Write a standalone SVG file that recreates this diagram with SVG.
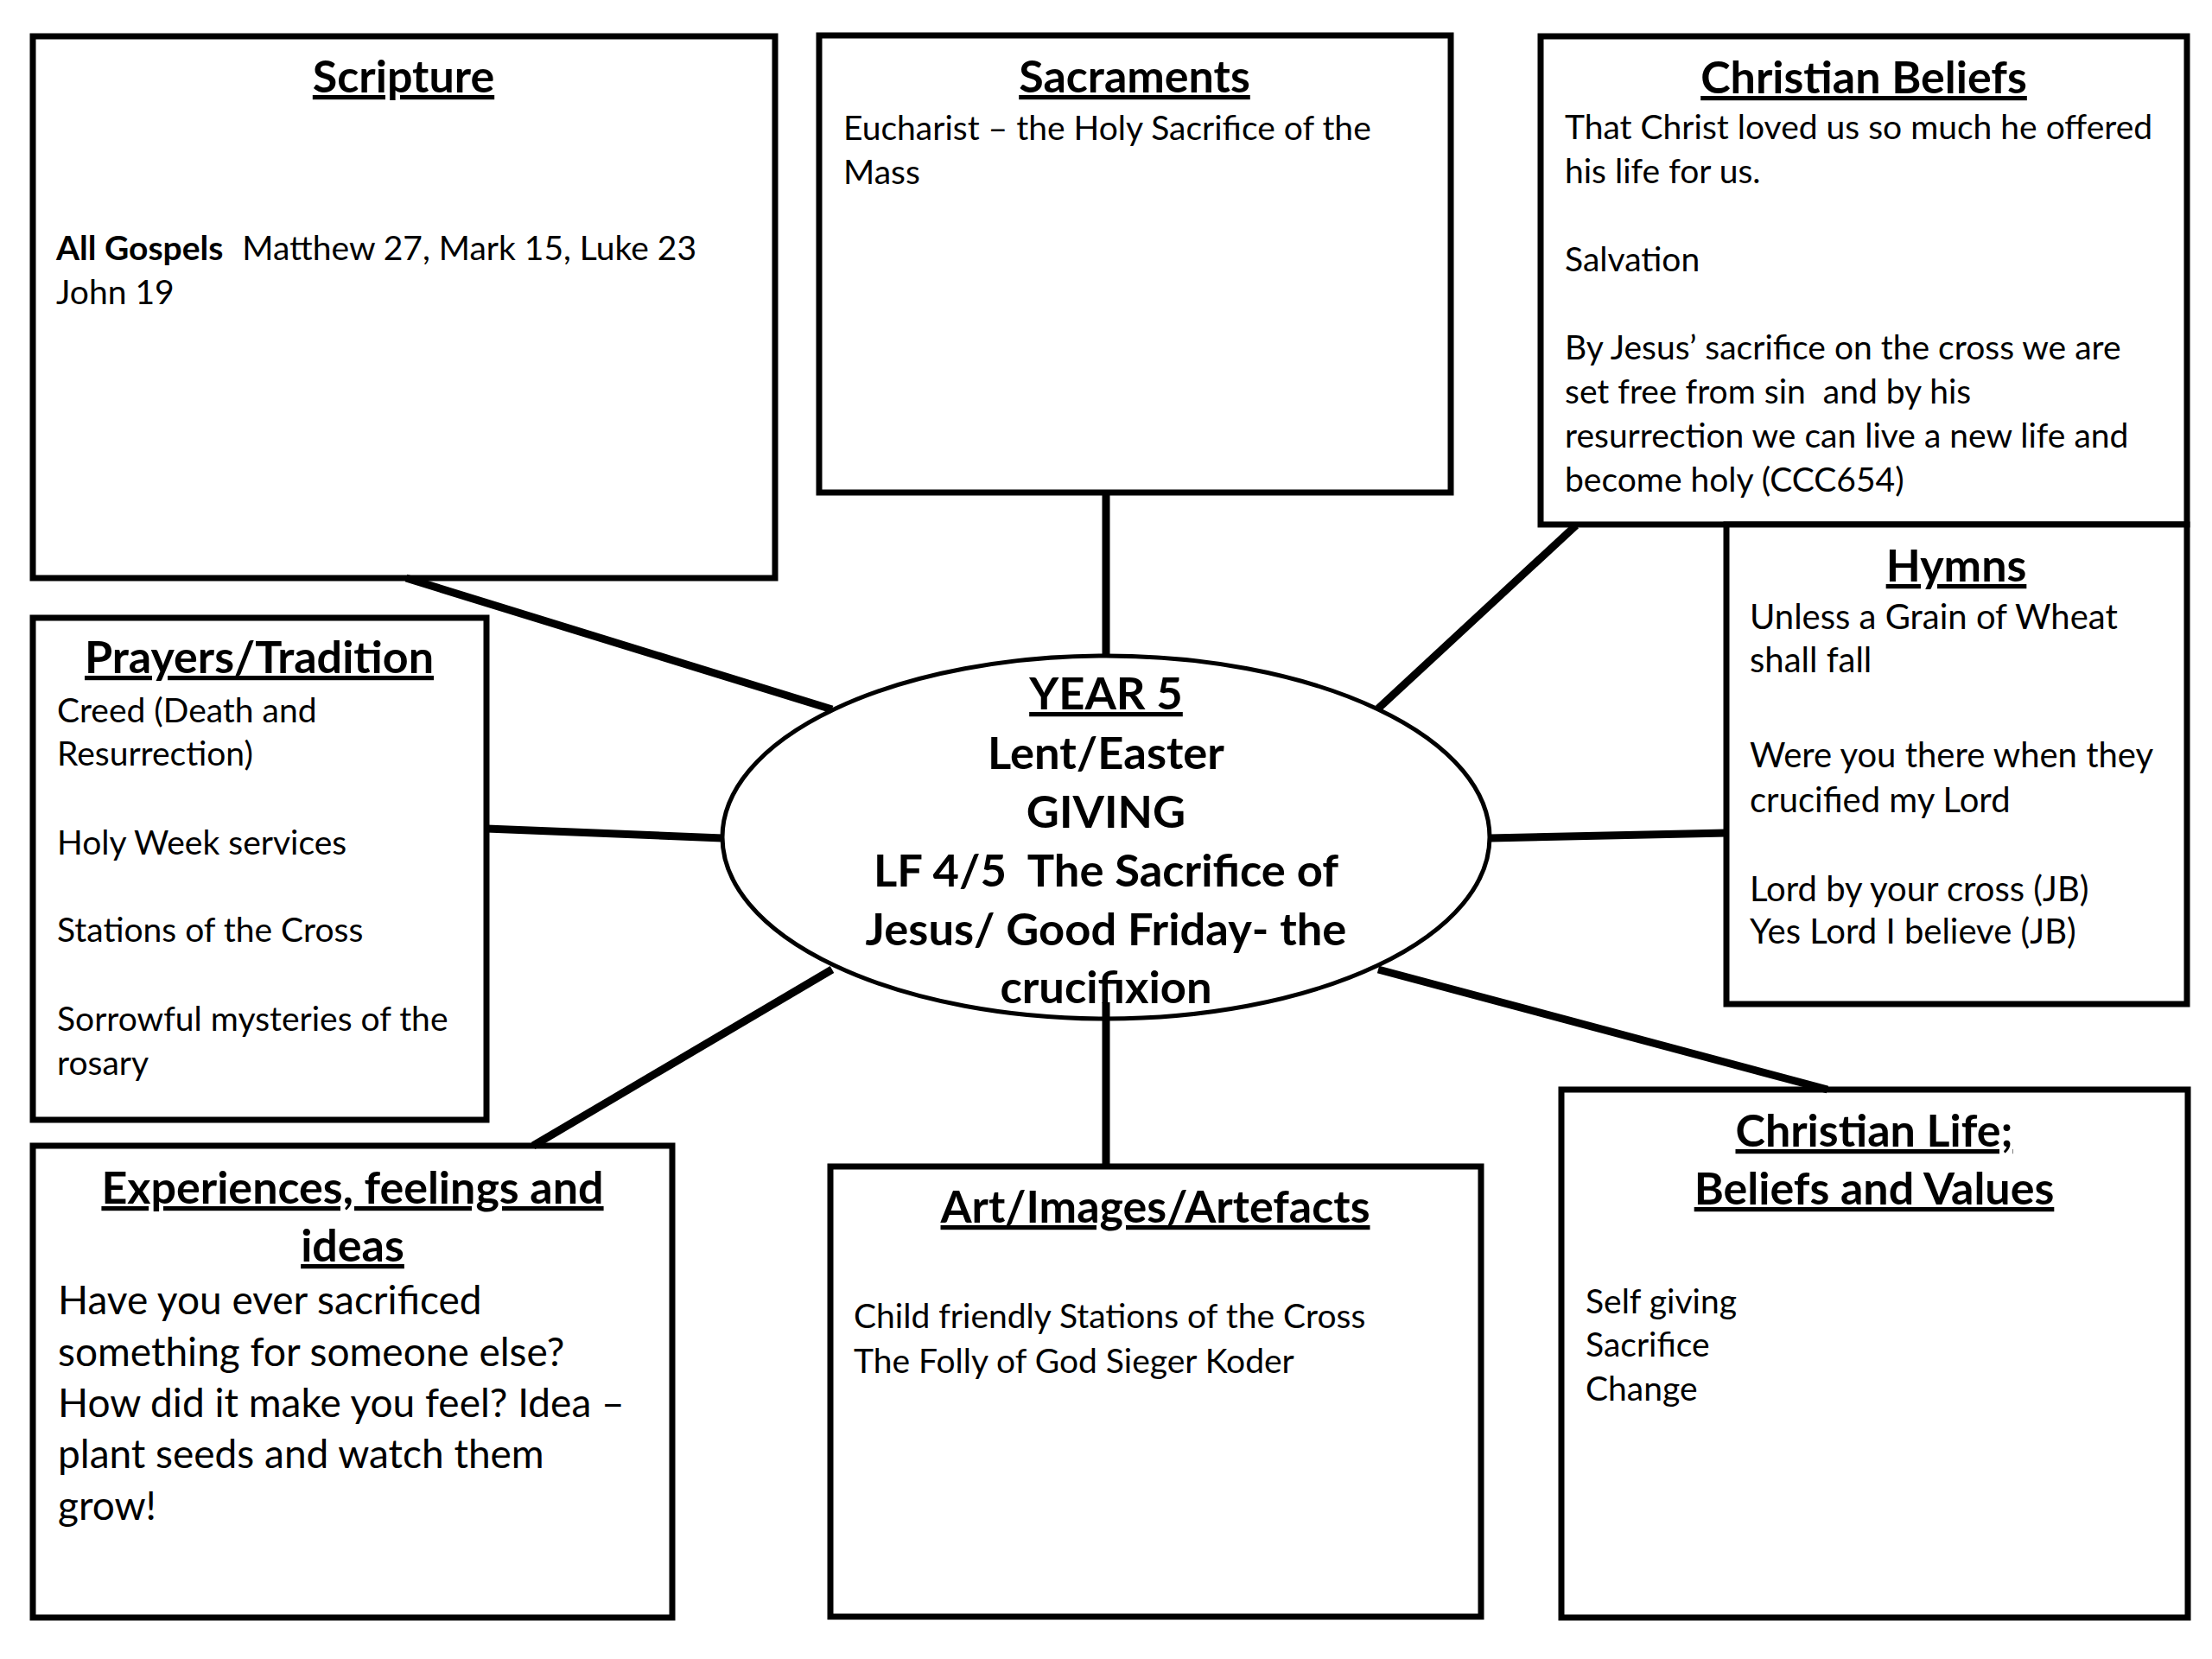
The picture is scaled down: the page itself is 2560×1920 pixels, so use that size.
<svg xmlns="http://www.w3.org/2000/svg" width="2560" height="1920" viewBox="0 0 2560 1920">
<style>
.box{fill:#fff;stroke:#000;stroke-width:7}
.ell{fill:#fff;stroke:#000;stroke-width:5}
.con line{stroke:#000;stroke-width:9;stroke-linecap:butt}
text{font-family:Lato,"Open Sans","Liberation Sans",sans-serif;fill:#000}
.t{font-size:52px;font-weight:bold;text-anchor:middle;text-decoration:underline}
.b{font-size:39px}
.h{font-size:40px}
.bl{font-size:46px}
.c{font-size:52.5px;font-weight:bold;text-anchor:middle}
</style>
<rect width="2560" height="1920" fill="#fff"/>
<g id="scripture">
<rect class="box" x="38" y="42" width="859" height="627"/>
<text class="t" x="467" y="107">Scripture</text>
<text class="b" x="65" y="301"><tspan font-weight="bold">All Gospels</tspan><tspan dx="22">Matthew 27, Mark 15, Luke 23</tspan></text>
<text class="b" x="65" y="352">John 19</text>
</g>
<g id="sacraments">
<rect class="box" x="948" y="41" width="731" height="529"/>
<text class="t" x="1313" y="107">Sacraments</text>
<text class="b" x="976" y="162">Eucharist – the Holy Sacrifice of the</text>
<text class="b" x="976" y="213">Mass</text>
</g>
<g id="christian-beliefs">
<rect class="box" x="1783" y="42" width="748" height="565"/>
<text class="t" x="2157" y="108">Christian Beliefs</text>
<text class="b" x="1811" y="161">That Christ loved us so much he offered</text>
<text class="b" x="1811" y="212">his life for us.</text>
<text class="b" x="1811" y="314">Salvation</text>
<text class="b" x="1811" y="416">By Jesus’ sacrifice on the cross we are</text>
<text class="b" x="1811" y="467">set free from sin&#160; and by his</text>
<text class="b" x="1811" y="518">resurrection we can live a new life and</text>
<text class="b" x="1811" y="569">become holy (CCC654)</text>
</g>
<g id="hymns">
<rect class="box" x="1998" y="607" width="533" height="555"/>
<text class="t" x="2264" y="673">Hymns</text>
<text class="h" x="2025" y="728">Unless a Grain of Wheat</text>
<text class="h" x="2025" y="778">shall fall</text>
<text class="h" x="2025" y="888">Were you there when they</text>
<text class="h" x="2025" y="940">crucified my Lord</text>
<text class="h" x="2025" y="1043">Lord by your cross (JB)</text>
<text class="h" x="2025" y="1092">Yes Lord I believe (JB)</text>
</g>
<g id="prayers-tradition">
<rect class="box" x="38" y="715" width="525" height="581"/>
<text class="t" x="300" y="779">Prayers/Tradition</text>
<text class="b" x="66" y="836">Creed (Death and</text>
<text class="b" x="66" y="886">Resurrection)</text>
<text class="b" x="66" y="989">Holy Week services</text>
<text class="b" x="66" y="1090">Stations of the Cross</text>
<text class="b" x="66" y="1193">Sorrowful mysteries of the</text>
<text class="b" x="66" y="1244">rosary</text>
</g>
<g id="centre">
<ellipse class="ell" cx="1280" cy="969" rx="444" ry="210"/>
<text class="c" x="1280" y="821" text-decoration="underline">YEAR 5</text>
<text class="c" x="1280" y="890">Lent/Easter</text>
<text class="c" x="1280" y="958">GIVING</text>
<text class="c" x="1280" y="1026">LF 4/5&#160; The Sacrifice of</text>
<text class="c" x="1280" y="1094">Jesus/ Good Friday- the</text>
<text class="c" x="1280" y="1161">crucifixion</text>
</g>
<g id="experiences">
<rect class="box" x="38" y="1326" width="740" height="546"/>
<text class="t" x="408" y="1393" font-size="57">Experiences, feelings and</text>
<text class="t" x="408" y="1460" font-size="57">ideas</text>
<text class="bl" x="67" y="1521">Have you ever sacrificed</text>
<text class="bl" x="67" y="1581">something for someone else?</text>
<text class="bl" x="67" y="1640">How did it make you feel? Idea –</text>
<text class="bl" x="67" y="1699">plant seeds and watch them</text>
<text class="bl" x="67" y="1759">grow!</text>
</g>
<g id="art">
<rect class="box" x="961" y="1350" width="753" height="521"/>
<text class="t" x="1337" y="1415">Art/Images/Artefacts</text>
<text class="b" x="988" y="1537">Child friendly Stations of the Cross</text>
<text class="b" x="988" y="1589">The Folly of God Sieger Koder</text>
</g>
<g id="christian-life">
<rect class="box" x="1807" y="1261" width="725" height="611"/>
<text class="t" x="2169" y="1327">Christian Life;</text>
<text class="t" x="2169" y="1394">Beliefs and Values</text>
<text class="b" x="1835" y="1520">Self giving</text>
<text class="b" x="1835" y="1570">Sacrifice</text>
<text class="b" x="1835" y="1621">Change</text>
</g>
<g id="connectors" class="con">
<line x1="470" y1="669" x2="963" y2="821"/>
<line x1="1280" y1="570" x2="1280" y2="759"/>
<line x1="1824" y1="608" x2="1595" y2="820"/>
<line x1="563" y1="959" x2="836" y2="970"/>
<line x1="1724" y1="970" x2="1998" y2="964"/>
<line x1="617" y1="1326" x2="963" y2="1122"/>
<line x1="1280" y1="1160" x2="1280" y2="1350"/>
<line x1="1595" y1="1122" x2="2115" y2="1261"/>
</g>
</svg>
